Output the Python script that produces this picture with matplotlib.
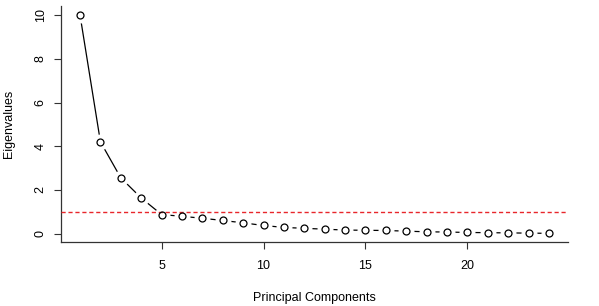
import matplotlib
matplotlib.use('Agg')
from matplotlib import pyplot as plt

# scree plot values
components = list(range(1, 25))
eigenvalues = [10.0, 4.2, 2.55, 1.63, 0.87, 0.79, 0.70, 0.60, 0.49, 0.37,
               0.28, 0.24, 0.20, 0.16, 0.15, 0.14, 0.11, 0.08, 0.07, 0.05,
               0.04, 0.03, 0.02, 0.01]
cutoff = 1
xticks = [5, 10, 15, 20]
yticks = [0, 2, 4, 6, 8, 10]

plt.rcParams['font.family'] = 'Liberation Sans'

fig = plt.figure(figsize=(5.99, 3.06), dpi=100)
ax = fig.add_axes([0.1023, 0.2082, 0.8455, 0.7708])

# R type="b": line, white gap around each point, then open circles
ax.plot(components, eigenvalues, color='black', linewidth=0.9, zorder=1)
ax.plot(components, eigenvalues, linestyle='none', marker='o', markersize=10.5,
        markerfacecolor='white', markeredgecolor='white', zorder=2)
ax.axhline(cutoff, color='#e8262b', linestyle=(0, (3, 2)), linewidth=1, zorder=3)
ax.plot(components, eigenvalues, linestyle='none', marker='o', markersize=5,
        markerfacecolor='none', markeredgecolor='black', markeredgewidth=0.9, zorder=4)

ax.set_xlim(0.08, 24.92)
ax.set_ylim(-0.4, 10.4)
ax.set_xticks(xticks)
ax.set_yticks(yticks)
ax.set_yticklabels([str(v) for v in yticks], rotation=90, va='center')

for s in ['top', 'right']:
    ax.spines[s].set_visible(False)
for s in ['left', 'bottom']:
    ax.spines[s].set_color('#333333')
    ax.spines[s].set_linewidth(0.9)
ax.tick_params(axis='both', direction='out', length=5, width=0.8,
               color='#333333', labelsize=9)
ax.tick_params(axis='x', pad=7.5)
ax.tick_params(axis='y', pad=5.5)

ax.set_xlabel('Principal Components', fontsize=9, labelpad=15)
ax.set_ylabel('Eigenvalues', fontsize=9, labelpad=14)

fig.savefig('out.png', dpi=100)
